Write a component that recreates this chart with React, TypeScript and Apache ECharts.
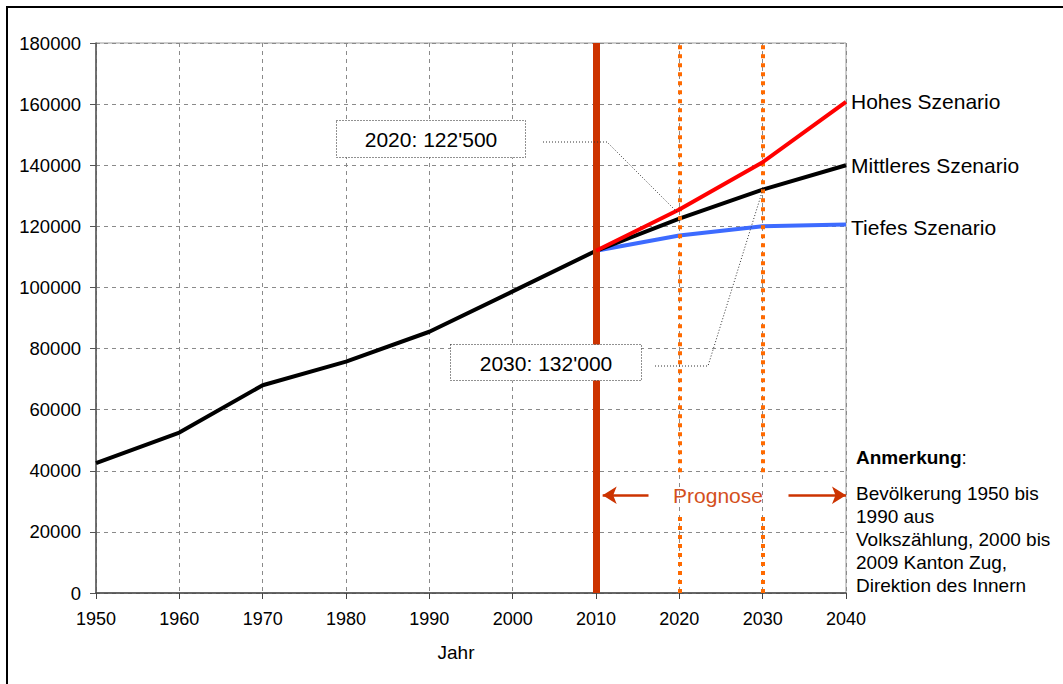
import React, { useEffect, useRef } from "react";
import * as echarts from "echarts";

const histData: [number, number][] = [
  [1950, 42500], [1960, 52500], [1970, 68000], [1980, 75700],
  [1990, 85500], [2000, 98700], [2010, 112000],
];
const midData: [number, number][] = [
  [2010, 112000], [2020, 122500], [2030, 132000], [2040, 140000],
];
const highData: [number, number][] = [
  [2010, 112000], [2020, 125500], [2030, 141000], [2040, 160700],
];
const lowData: [number, number][] = [
  [2010, 112000], [2020, 117000], [2030, 120000], [2040, 120600],
];
const seriesNames = ["Hohes Szenario", "Mittleres Szenario", "Tiefes Szenario"];
const callouts = ["2020: 122'500", "2030: 132'000"];
const noteLines = [
  "Bevölkerung 1950 bis",
  "1990 aus",
  "Volkszählung, 2000 bis",
  "2009 Kanton Zug,",
  "Direktion des Innern",
];

const FONT = "'Liberation Sans', Arial, sans-serif";

export default function App() {
  const ref = useRef<HTMLDivElement>(null);
  useEffect(() => {
    if (!ref.current) return;
    const chart = echarts.init(ref.current, null, { renderer: "svg" });
    const endLabel = (name: string, dy = 0) => ({
      show: true,
      formatter: name,
      color: "#000",
      fontSize: 21,
      fontFamily: FONT,
      distance: 5,
      offset: [0, dy],
    });
    const option: any = {
      animation: false,
      backgroundColor: "#fff",
      textStyle: { fontFamily: FONT },
      grid: {
        left: 96, right: 217, top: 43, bottom: 91,
        show: true, borderColor: "#9a9a9a", borderWidth: 1,
      },
      xAxis: {
        type: "value", min: 1950, max: 2040, interval: 10,
        axisLine: { show: true, lineStyle: { color: "#444", width: 1.5 } },
        axisTick: { show: true, length: 6, lineStyle: { color: "#444" } },
        axisLabel: {
          color: "#000", fontSize: 18, fontFamily: FONT, margin: 17,
          formatter: (v: number) => String(v),
        },
        splitLine: { show: true, lineStyle: { color: "#8a8a8a", type: [4, 4], width: 1 } },
      },
      yAxis: {
        type: "value", min: 0, max: 180000, interval: 20000,
        axisLine: { show: true, lineStyle: { color: "#555", width: 1.5 } },
        axisTick: { show: true, length: 6, lineStyle: { color: "#555" } },
        axisLabel: {
          color: "#000", fontSize: 18.5, fontFamily: FONT, margin: 15,
          formatter: (v: number) => String(v),
        },
        splitLine: { show: true, lineStyle: { color: "#8a8a8a", type: [4, 4], width: 1 } },
      },
      series: [
        {
          type: "line", name: "hist", data: histData, symbol: "none",
          lineStyle: { color: "#000", width: 4 }, z: 3,
        },
        {
          type: "line", name: seriesNames[2], data: lowData, symbol: "none",
          lineStyle: { color: "#3d6bff", width: 4 }, z: 3,
          endLabel: endLabel(seriesNames[2], 3),
        },
        {
          type: "line", name: seriesNames[1], data: midData, symbol: "none",
          lineStyle: { color: "#000", width: 4 }, z: 4,
          endLabel: endLabel(seriesNames[1]),
        },
        {
          type: "line", name: seriesNames[0], data: highData, symbol: "none",
          lineStyle: { color: "#ff0000", width: 4 }, z: 5,
          endLabel: endLabel(seriesNames[0]),
        },
        {
          type: "line", data: [], z: 6, silent: true,
          markLine: {
            silent: true, symbol: "none", label: { show: false },
            lineStyle: { color: "#cc3300", width: 7, type: "solid" },
            data: [[{ coord: [2010, 0] }, { coord: [2010, 180000] }]],
          },
        },
        {
          type: "line", data: [], z: 6, silent: true,
          markLine: {
            silent: true, symbol: "none", label: { show: false },
            lineStyle: { color: "#ff6a00", width: 4, type: [4, 5], cap: "butt" },
            data: [
              [{ coord: [2020, 0] }, { coord: [2020, 25000] }],
              [{ coord: [2020, 39500] }, { coord: [2020, 180000] }],
              [{ coord: [2030, 0] }, { coord: [2030, 25000] }],
              [{ coord: [2030, 39500] }, { coord: [2030, 180000] }],
            ],
          },
        },
        {
          type: "line", data: [], z: 6, silent: true,
          markLine: {
            silent: true, label: { show: false },
            symbol: ["arrow", "none"], symbolSize: [13, 14],
            lineStyle: { color: "#cc3300", width: 2.5, type: "solid" },
            data: [[{ coord: [2010.8, 32000] }, { coord: [2016.3, 32000] }]],
          },
        },
        {
          type: "line", data: [], z: 6, silent: true,
          markLine: {
            silent: true, label: { show: false },
            symbol: ["none", "arrow"], symbolSize: [13, 14],
            lineStyle: { color: "#cc3300", width: 2.5, type: "solid" },
            data: [[{ coord: [2033.1, 32000] }, { coord: [2040, 32000] }]],
          },
        },
      ],
      graphic: [
        { type: "line", shape: { x1: 6, y1: 7, x2: 1063, y2: 7 }, style: { stroke: "#000", lineWidth: 2 } },
        { type: "line", shape: { x1: 7, y1: 6, x2: 7, y2: 684 }, style: { stroke: "#000", lineWidth: 2 } },
        {
          type: "rect", shape: { x: 336.5, y: 120.5, width: 189, height: 37 },
          style: { fill: "#fff", stroke: "#222", lineWidth: 1, lineDash: [1, 2] }, z: 10,
        },
        {
          type: "text", x: 431, y: 139, z: 11,
          style: { text: callouts[0], fontSize: 21, fontFamily: FONT, fill: "#000", align: "center", verticalAlign: "middle" },
        },
        {
          type: "polyline", shape: { points: [[543, 142], [607, 142], [677, 212]] },
          style: { stroke: "#333", lineWidth: 1, lineDash: [1, 2], fill: "none" }, z: 10,
        },
        {
          type: "rect", shape: { x: 450.5, y: 344.5, width: 191, height: 36 },
          style: { fill: "#fff", stroke: "#222", lineWidth: 1, lineDash: [1, 2] }, z: 10,
        },
        {
          type: "text", x: 546, y: 363, z: 11,
          style: { text: callouts[1], fontSize: 21, fontFamily: FONT, fill: "#000", align: "center", verticalAlign: "middle" },
        },
        {
          type: "polyline", shape: { points: [[655, 366], [708, 366], [763, 189]] },
          style: { stroke: "#333", lineWidth: 1, lineDash: [1, 2], fill: "none" }, z: 10,
        },
        {
          type: "text", x: 718, y: 495, z: 11,
          style: { text: "Prognose", fontSize: 21, fontFamily: FONT, fill: "#d4501c", align: "center", verticalAlign: "middle" },
        },
        {
          type: "text", x: 456, y: 652, z: 11,
          style: { text: "Jahr", fontSize: 19, fontFamily: FONT, fill: "#000", align: "center", verticalAlign: "middle" },
        },
        {
          type: "text", x: 856, y: 457, z: 11,
          style: {
            text: "{b|Anmerkung}:", fontSize: 19, fontFamily: FONT, fill: "#000",
            align: "left", verticalAlign: "middle",
            rich: { b: { fontWeight: "bold", fontSize: 19, fontFamily: FONT, fill: "#000" } },
          },
        },
        {
          type: "text", x: 856, y: 481.5, z: 11,
          style: {
            text: noteLines.join("\n"), fontSize: 19, fontFamily: FONT, fill: "#000",
            align: "left", verticalAlign: "top", lineHeight: 23,
          },
        },
      ],
    };
    chart.setOption(option);
    return () => chart.dispose();
  }, []);
  return (
    <div
      ref={ref}
      style={{ position: "fixed", left: 0, top: 0, width: 1063, height: 684 }}
    />
  );
}
